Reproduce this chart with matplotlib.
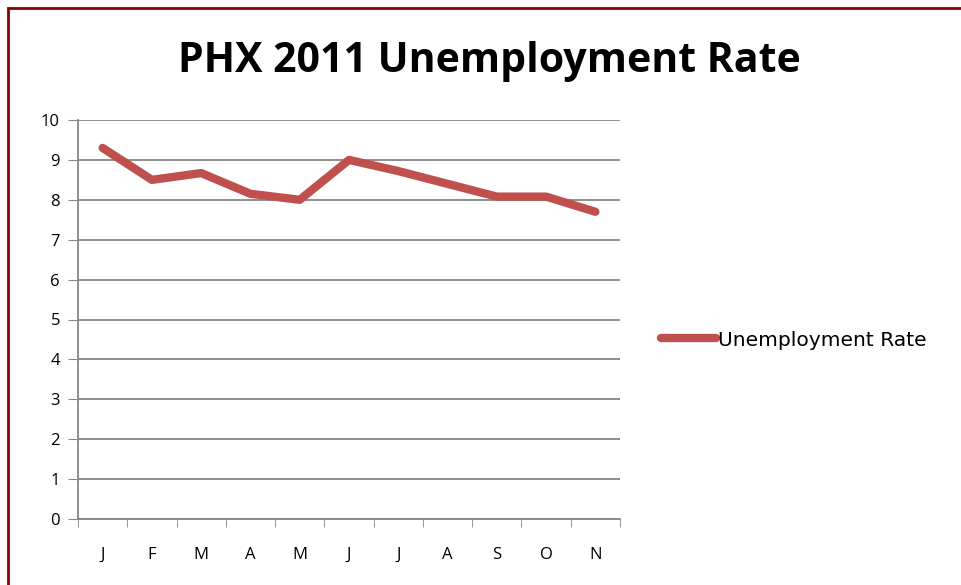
import matplotlib.pyplot as plt
from matplotlib.patches import Rectangle
import numpy as np

months = ['J', 'F', 'M', 'A', 'M', 'J', 'J', 'A', 'S', 'O', 'N']
rate = [9.3, 8.5, 8.67, 8.15, 8.0, 9.0, 8.72, 8.4, 8.08, 8.08, 7.7]
yticks = list(range(0, 11))

plt.rcParams['font.family'] = ['Open Sans', 'DejaVu Sans']

fig = plt.figure(figsize=(9.61, 5.85), dpi=100)
# dark red outer frame (only top and left visible in the crop)
fig.patches.append(Rectangle((8 / 961, -0.1), 1.2, 1 - 8 / 585 + 0.1,
                             transform=fig.transFigure, fill=False,
                             edgecolor='#8B0000', linewidth=2))

ax = fig.add_axes([78 / 961, 1 - 519 / 585, (620 - 78) / 961, (519 - 120) / 585])
x = np.arange(len(months))
ax.plot(x, rate, color='#C0504D', linewidth=6, solid_capstyle='round',
        solid_joinstyle='round', label='Unemployment Rate')

ax.set_xlim(-0.5, len(months) - 0.5)
ax.set_ylim(0, 10)
ax.set_yticks(yticks)
ax.set_xticks(x)
ax.set_xticklabels(months)
ax.set_xticks(np.arange(-0.5, len(months)), minor=True)
ax.tick_params(axis='x', which='major', length=0, pad=20, labelsize=12)
ax.tick_params(axis='x', which='minor', length=6, color='#868686', direction='out')
ax.tick_params(axis='y', length=7, color='#868686', labelsize=12, pad=6)
ax.grid(axis='y', color='#868686', linewidth=1.3)
ax.set_axisbelow(True)
for s in ['top', 'right']:
    ax.spines[s].set_visible(False)
for s in ['left', 'bottom']:
    ax.spines[s].set_color('#868686')
    ax.spines[s].set_linewidth(1.3)

fig.text(489 / 961, 1 - 61 / 585, 'PHX 2011 Unemployment Rate', ha='center',
         va='center', fontsize=29.5, fontweight='bold')

leg = fig.legend(loc='center left', bbox_to_anchor=(643 / 961, 1 - 340 / 585),
                 frameon=False, prop={'family': 'DejaVu Sans', 'size': 14.6},
                 handlelength=2.7, handletextpad=0.1)

fig.savefig('out.png', dpi=100)
